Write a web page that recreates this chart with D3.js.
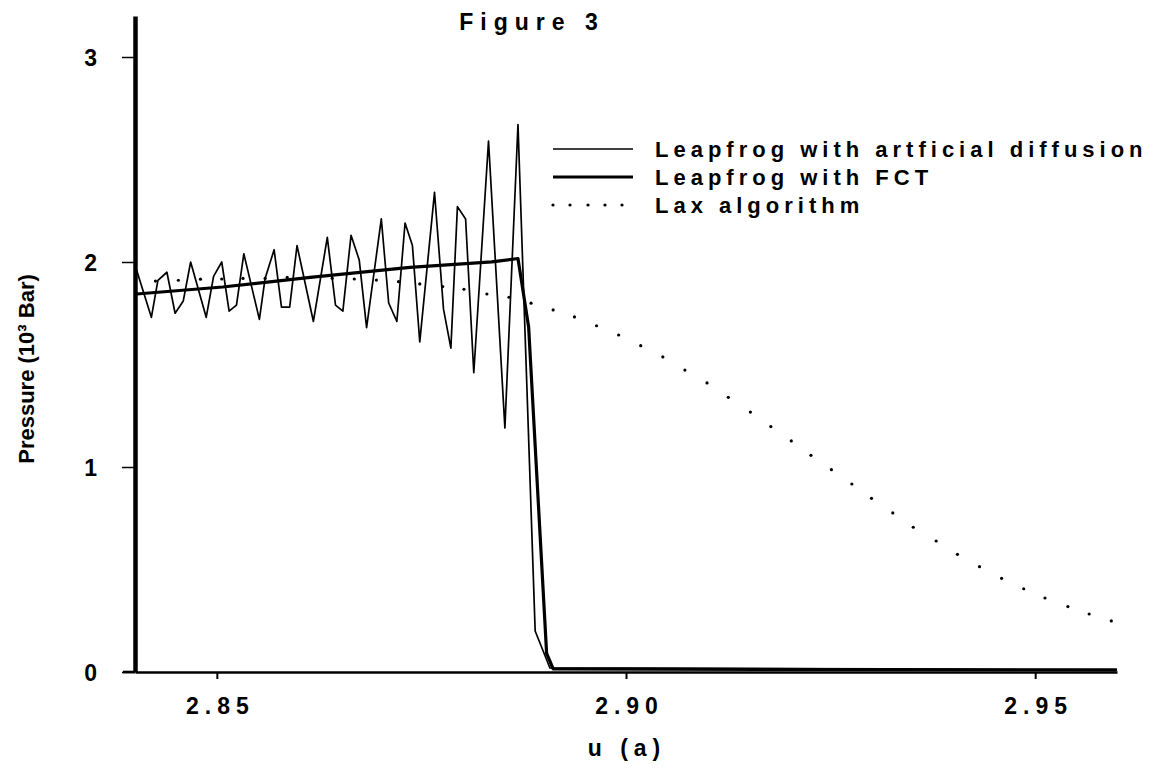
<!DOCTYPE html>
<html>
<head>
<meta charset="utf-8">
<script src="https://cdn.jsdelivr.net/npm/d3@7"></script>
<style>
  html, body { margin: 0; padding: 0; background: #fff; }
  svg { display: block; }
  text { font-family: "Liberation Sans", Arial, sans-serif; font-weight: bold; fill: #000; }
</style>
</head>
<body>
<svg id="chart" width="1168" height="768"></svg>
<script>
// Leapfrog with artificial diffusion (u, pressure in 10^3 bar)
const diffusionU = [2.8402, 2.8420, 2.8428, 2.8439, 2.8449, 2.8459, 2.8468, 2.8487, 2.8496, 2.8506,
                    2.8515, 2.8524, 2.8533, 2.8552, 2.8559, 2.8570, 2.8579, 2.8589, 2.8598, 2.8618,
                    2.8635, 2.8645, 2.8654, 2.8664, 2.8674, 2.8683, 2.8701, 2.8710, 2.8720, 2.8730,
                    2.8739, 2.8748, 2.8766, 2.8777, 2.8786, 2.8794, 2.8804, 2.8814, 2.8832, 2.8852,
                    2.8868, 2.8889, 2.8903, 2.8907, 2.9600];
const diffusionP = [1.96, 1.73, 1.91, 1.95, 1.75, 1.81, 2.00, 1.73, 1.93, 2.00,
                    1.76, 1.79, 2.04, 1.72, 1.92, 2.06, 1.78, 1.78, 2.08, 1.71,
                    2.12, 1.79, 1.76, 2.13, 2.01, 1.68, 2.21, 1.80, 1.71, 2.19,
                    2.08, 1.61, 2.34, 1.77, 1.58, 2.27, 2.21, 1.46, 2.59, 1.19,
                    2.67, 0.20, 0.06, 0.02, 0.01];

// Leapfrog with FCT
const fctU = [2.8402, 2.8507, 2.8614, 2.8736, 2.8836, 2.8868, 2.8881, 2.8903, 2.8911, 2.9600];
const fctP = [1.844, 1.878, 1.925, 1.974, 2.001, 2.017, 1.684, 0.091, 0.015, 0.01];

// Lax algorithm
const laxU = [2.8425, 2.8453, 2.8480, 2.8506, 2.8532, 2.8559, 2.8586, 2.8614, 2.8641, 2.8668,
              2.8695, 2.8722, 2.8748, 2.8776, 2.8802, 2.8830, 2.8857, 2.8884, 2.8911, 2.8937,
              2.8964, 2.8991, 2.9018, 2.9045, 2.9072, 2.9099, 2.9125, 2.9152, 2.9177, 2.9202,
              2.9226, 2.9251, 2.9276, 2.9300, 2.9326, 2.9351, 2.9379, 2.9405, 2.9432, 2.9459,
              2.9486, 2.9512, 2.9540, 2.9566, 2.9593];
const laxP = [1.907, 1.911, 1.916, 1.917, 1.920, 1.920, 1.925, 1.925, 1.921, 1.917,
              1.912, 1.904, 1.893, 1.880, 1.867, 1.844, 1.828, 1.799, 1.766, 1.732,
              1.689, 1.644, 1.592, 1.537, 1.473, 1.410, 1.340, 1.268, 1.197, 1.127,
              1.057, 0.987, 0.917, 0.847, 0.776, 0.706, 0.639, 0.574, 0.514, 0.457,
              0.406, 0.361, 0.319, 0.283, 0.249];

const xTicks = [2.85, 2.90, 2.95];
const yTicks = [0, 1, 2, 3];
const legendLabels = ["Leapfrog with artficial diffusion", "Leapfrog with FCT", "Lax algorithm"];

const svg = d3.select("#chart");

const x = d3.scaleLinear().domain([2.84, 2.96]).range([135, 1117]);
const y = d3.scaleLinear().domain([0, 3.2]).range([672, 16]);

const zip = (us, ps) => us.map((u, i) => [u, ps[i]]);
const line = d3.line().x(d => x(d[0])).y(d => y(d[1]));

// curves
svg.append("path")
  .datum(zip(diffusionU, diffusionP))
  .attr("d", line)
  .attr("fill", "none").attr("stroke", "#000")
  .attr("stroke-width", 1.7).attr("stroke-linejoin", "round");

svg.append("path")
  .datum(zip(fctU, fctP))
  .attr("d", line)
  .attr("fill", "none").attr("stroke", "#000")
  .attr("stroke-width", 3.2).attr("stroke-linejoin", "round");

svg.append("g").selectAll("circle")
  .data(zip(laxU, laxP))
  .join("circle")
  .attr("cx", d => x(d[0])).attr("cy", d => y(d[1]))
  .attr("r", 1.6).attr("fill", "#000");

// x axis
const xAxis = svg.append("g")
  .attr("transform", `translate(0,${y(0)})`)
  .call(d3.axisBottom(x).tickValues(xTicks).tickFormat(d3.format(".2f")).tickSize(7).tickSizeOuter(0));
xAxis.select(".domain").attr("stroke-width", 2.6);
xAxis.selectAll(".tick line").attr("stroke-width", 2);
xAxis.selectAll(".tick text")
  .attr("y", 42).attr("dy", 0)
  .attr("font-size", 23).attr("letter-spacing", 6)
  .attr("dx", 3)
  .style("font-family", "'Liberation Sans', Arial, sans-serif").style("font-weight", "bold");

// small overhang of the baseline to the left of the vertical axis
svg.append("line")
  .attr("x1", 123).attr("x2", x.range()[0])
  .attr("y1", y(0)).attr("y2", y(0))
  .attr("stroke", "#000").attr("stroke-width", 2.6);

// y axis
const yAxis = svg.append("g")
  .attr("transform", `translate(${x.range()[0]},0)`)
  .call(d3.axisLeft(y).tickValues(yTicks).tickFormat(d3.format("d")).tickSize(13).tickSizeOuter(0));
yAxis.select(".domain").attr("stroke-width", 4.5);
yAxis.selectAll(".tick line").attr("stroke-width", 1.5);
yAxis.selectAll(".tick text")
  .attr("x", -38).attr("dy", "0.36em")
  .attr("font-size", 23)
  .style("font-family", "'Liberation Sans', Arial, sans-serif").style("font-weight", "bold");

// axis titles
svg.append("text")
  .attr("x", 627).attr("y", 756)
  .attr("text-anchor", "middle")
  .attr("font-size", 23).attr("letter-spacing", 6)
  .text("u (a)");

svg.append("text")
  .attr("transform", "translate(34,369) rotate(-90)")
  .attr("text-anchor", "middle")
  .attr("font-size", 22)
  .text("Pressure (10³ Bar)");

// title
svg.append("text")
  .attr("x", 532).attr("y", 30)
  .attr("text-anchor", "middle")
  .attr("font-size", 23).attr("letter-spacing", 7)
  .text("Figure 3");

// legend
const legend = svg.append("g").attr("transform", "translate(553,0)");
const rowY = [149, 177, 205];
legend.append("line").attr("x1", 0).attr("x2", 80).attr("y1", rowY[0]).attr("y2", rowY[0])
  .attr("stroke", "#000").attr("stroke-width", 1.7);
legend.append("line").attr("x1", 0).attr("x2", 80).attr("y1", rowY[1]).attr("y2", rowY[1])
  .attr("stroke", "#000").attr("stroke-width", 3.2);
legend.append("g").selectAll("circle")
  .data([0, 17, 35, 52, 69])
  .join("circle")
  .attr("cx", d => d).attr("cy", rowY[2]).attr("r", 1.6).attr("fill", "#000");
legend.selectAll("text.lbl")
  .data(legendLabels)
  .join("text")
  .attr("class", "lbl")
  .attr("x", 102).attr("y", (d, i) => rowY[i] + 8)
  .attr("font-size", 22).attr("letter-spacing", 5)
  .text(d => d);
</script>
</body>
</html>
